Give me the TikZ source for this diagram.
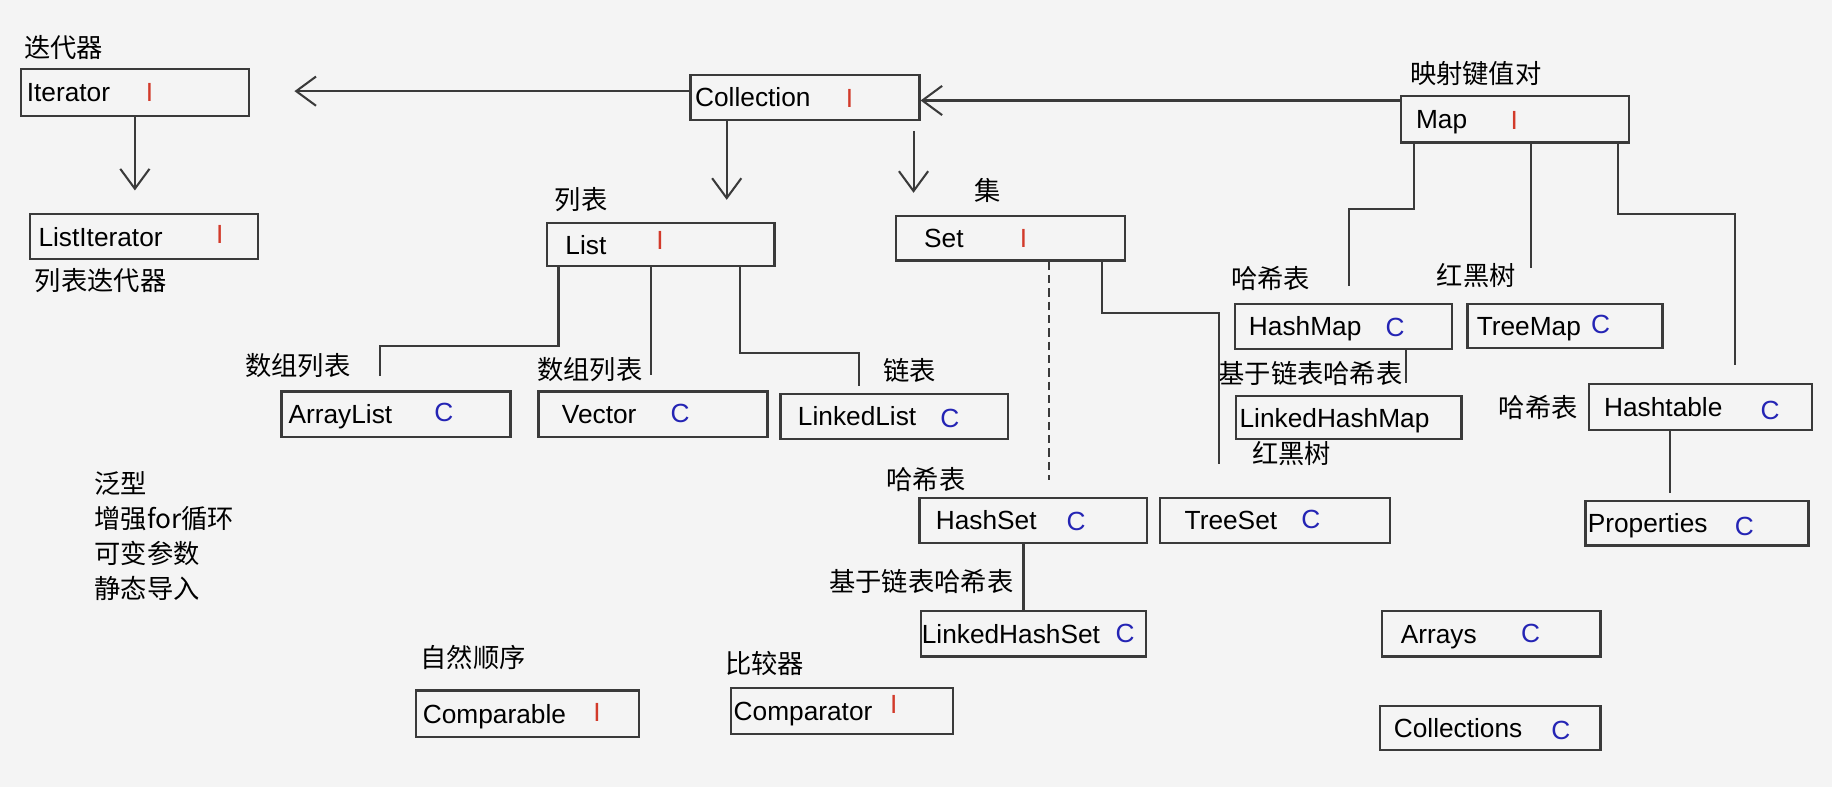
\documentclass[tikz,border=0pt]{standalone}
\usepackage{fontspec}
\setmainfont{Liberation Sans}
\newfontfamily\cjk{Noto Sans CJK SC}
\usetikzlibrary{arrows.meta}
\definecolor{cbg}{HTML}{F4F4F4}
\definecolor{cline}{HTML}{3A3A3A}
\definecolor{cred}{HTML}{D23A2A}
\definecolor{cblue}{HTML}{2424B4}
\tikzset{
  every picture/.style={line width=1pt},
  box/.style={draw=cline, line width=1.1pt, anchor=north west, align=left, inner ysep=0pt,
    text height=9.2pt, text depth=0pt, font=\fontsize{12.8}{15}\selectfont},
  note/.style={font=\cjk\fontsize{12.8}{17}\selectfont, anchor=west, inner sep=0pt},
  imark/.style={text=cred, font=\fontsize{12.8}{15}\selectfont, inner sep=0pt},
  cmark/.style={text=cblue, font=\fontsize{12.8}{15}\selectfont, inner sep=0pt},
  link/.style={draw=cline, line width=1pt},
  arrow/.style={link, -{Straight Barb[length=0.34cm, width=0.5cm]}},
}

\begin{document}
\begin{tikzpicture}[x=0.02cm, y=-0.02cm]
  \useasboundingbox (0,0) rectangle (1568,674);
  \fill[cbg] (0,0) rectangle (1568,674);

  % iterators
  \node[note] (iter-t) at (20,41) {迭代器};
  \node[box, text width=3.7cm, inner xsep=0.1cm, minimum height=0.8cm] (iter) at (17,58) {Iterator};
  \node[imark] (iter-k) at (128,79) {I};
  \node[box, text width=3.62cm, inner xsep=0.14cm, minimum height=0.78cm] (liter) at (25,182) {ListIterator};
  \node[imark] (liter-k) at (188,201) {I};
  \node[note] (liter-t) at (29,240) {列表迭代器};

  % collection, list, set
  \node[box, text width=3.76cm, inner xsep=0.08cm, minimum height=0.78cm] (coll) at (590,63) {Collection};
  \node[imark] (coll-k) at (727,84) {I};
  \node[note] (list-t) at (474,171) {列表};
  \node[box, text width=3.26cm, inner xsep=0.32cm, minimum height=0.74cm] (list) at (467,190) {List};
  \node[imark] (list-k) at (565,206) {I};
  \node[note] (set-t) at (833,163) {集};
  \node[box, text width=2.96cm, inner xsep=0.48cm, minimum height=0.76cm] (set) at (766,184) {Set};
  \node[imark] (set-k) at (876,204) {I};

  % lists
  \node[note] (alist-t) at (209,313) {数组列表};
  \node[box, text width=3.68cm, inner xsep=0.12cm, minimum height=0.78cm] (alist) at (240,334) {ArrayList};
  \node[cmark] (alist-k) at (380,353) {C};
  \node[note] (vec-t) at (459,316) {数组列表};
  \node[box, text width=3.12cm, inner xsep=0.4cm, minimum height=0.78cm] (vec) at (460,334) {Vector};
  \node[cmark] (vec-k) at (582,354) {C};
  \node[note] (llist-t) at (755,317) {链表};
  \node[box, text width=3.3cm, inner xsep=0.3cm, minimum height=0.78cm] (llist) at (667,336) {LinkedList};
  \node[cmark] (llist-k) at (813,358) {C};

  % sets
  \node[note] (hset-t) at (758,410) {哈希表};
  \node[box, text width=3.34cm, inner xsep=0.28cm, minimum height=0.78cm] (hset) at (786,425) {HashSet};
  \node[cmark] (hset-k) at (921,446) {C};
  \node[note] (tset-t) at (1071,388) {红黑树};
  \node[box, text width=3.1cm, inner xsep=0.42cm, minimum height=0.78cm] (tset) at (992,425) {TreeSet};
  \node[cmark] (tset-k) at (1122,445) {C};
  \node[note] (lhset-t) at (709,498) {基于链表哈希表};
  \node[box, text width=3.82cm, inner xsep=0.02cm, minimum height=0.78cm] (lhset) at (787,522) {LinkedHashSet};
  \node[cmark] (lhset-k) at (963,542) {C};

  % maps
  \node[note] (map-t) at (1206,63) {映射键值对};
  \node[box, text width=3.38cm, inner xsep=0.26cm, minimum height=0.8cm] (map) at (1198,81) {Map};
  \node[imark] (map-k) at (1296,103) {I};
  \node[note] (hmap-t) at (1053,238) {哈希表};
  \node[box, text width=3.24cm, inner xsep=0.24cm, minimum height=0.78cm] (hmap) at (1056,259) {HashMap};
  \node[cmark] (hmap-k) at (1194,280) {C};
  \node[note] (tmap-t) at (1229,236) {红黑树};
  \node[box, text width=3.02cm, inner xsep=0.16cm, minimum height=0.76cm] (tmap) at (1255,259) {TreeMap};
  \node[cmark] (tmap-k) at (1370,278) {C};
  \node[note] (lhmap-t) at (1042,320) {基于链表哈希表};
  \node[box, text width=3.74cm, inner xsep=0.06cm, minimum height=0.74cm] (lhmap) at (1057,338) {LinkedHashMap};
  \node[note] (htab-t) at (1282,349) {哈希表};
  \node[box, text width=3.3cm, inner xsep=0.26cm, minimum height=0.78cm] (htab) at (1359,328) {Hashtable};
  \node[cmark] (htab-k) at (1515,351) {C};
  \node[box, text width=3.74cm, inner xsep=0.04cm, minimum height=0.76cm] (prop) at (1356,428) {Properties};
  \node[cmark] (prop-k) at (1493,451) {C};

  % tools
  \node[box, text width=3.1cm, inner xsep=0.32cm, minimum height=0.78cm] (arrays) at (1182,522) {Arrays};
  \node[cmark] (arrays-k) at (1310,542) {C};
  \node[box, text width=3.3cm, inner xsep=0.24cm, minimum height=0.76cm] (colls) at (1180,603) {Collections};
  \node[cmark] (colls-k) at (1336,625) {C};
  \node[note] (cmpb-t) at (359,563) {自然顺序};
  \node[box, text width=3.58cm, inner xsep=0.12cm, minimum height=0.8cm] (cmpb) at (355,590) {Comparable};
  \node[imark] (cmpb-k) at (511,610) {I};
  \node[note] (cmpr-t) at (620,568) {比较器};
  \node[box, text width=3.72cm, inner xsep=0.04cm, minimum height=0.78cm] (cmpr) at (625,588) {Comparator};
  \node[imark] (cmpr-k) at (765,603) {I};
  \node[note, align=left] (extras) at (80,459) {泛型\\增强for循环\\可变参数\\静态导入};

  % arrows
  \coordinate (iterin) at (252,78);
  \draw[arrow] (coll.west |- iterin) -- (iterin);
  \coordinate (map-in) at ([yshift=-0.1cm]map.north west);
  \draw[arrow] (map-in) -- (map-in -| coll.east);
  \draw[arrow, shorten >=0.38cm] (iter.south) -- (iter.south |- liter.north);
  \coordinate (coll-l) at ([xshift=0.64cm]coll.south west);
  \coordinate (coll-s) at ([xshift=-0.12cm]coll.south east);
  \draw[arrow, shorten >=0.38cm] (coll-l) -- (coll-l |- list.north);
  \draw[arrow, shorten <=0.16cm, shorten >=0.38cm] (coll-s) -- (coll-s |- set.north);

  % list lines
  \draw[link] ([xshift=0.22cm]list.south west) -- ++(0,67) -| ([xshift=1.7cm, yshift=0.24cm]alist.north west);
  \coordinate (list-v) at ([xshift=1.8cm]list.south west);
  \draw[link, shorten >=0.26cm] (list-v) -- (list-v |- vec.north);
  \draw[link] ([xshift=3.32cm]list.south west) -- ++(0,73) -| ([xshift=1.36cm, yshift=0.12cm]llist.north west);

  % set lines
  \coordinate (set-h) at ([xshift=2.64cm]set.south west);
  \draw[link, dash pattern=on 4pt off 2.5pt, shorten >=0.28cm] (set-h) -- (set-h |- hset.north);
  \draw[link] ([xshift=3.54cm]set.south west) -- ++(0,44) -| ([xshift=1.02cm, yshift=0.56cm]tset.north west);
  \coordinate (hset-l) at ([xshift=1.8cm]hset.south west);
  \draw[link] (hset-l) -- (hset-l |- lhset.north);

  % map lines
  \draw[link] ([xshift=0.24cm]map.south west) -- ++(0,56) -| ([xshift=1.98cm, yshift=0.28cm]hmap.north west);
  \coordinate (map-m) at ([xshift=2.24cm]map.south west);
  \draw[link, shorten >=0.6cm] (map-m) -- (map-m |- tmap.north);
  \draw[link] ([xshift=3.74cm]map.south west) -- ++(0,60) -| ([xshift=2.52cm, yshift=0.32cm]htab.north west);
  \coordinate (hmap-l) at ([xshift=2.94cm]hmap.south west);
  \draw[link, shorten >=0.2cm] (hmap-l) -- (hmap-l |- lhmap.north);
  \coordinate (htab-p) at ([xshift=1.4cm]htab.south west);
  \draw[link, shorten >=0.12cm] (htab-p) -- (htab-p |- prop.north);
\end{tikzpicture}
\end{document}
